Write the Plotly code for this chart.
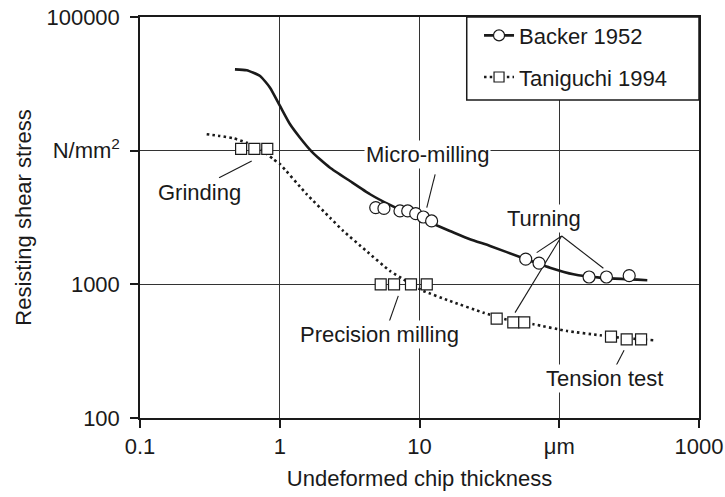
import numpy as np
import plotly.graph_objects as go

# ---------------- data ----------------
# Backer 1952: fitted curve and measured points
backer_curve_x = [0.478, 0.580, 0.723, 0.852, 1.004, 1.185, 1.396, 1.694, 1.940, 2.290, 3.177,
                  4.428, 6.147, 8.546, 11.90, 16.49, 22.97, 31.99, 55.33, 85.82, 126.3, 195.2, 426.6]
backer_curve_y = [40600, 39950, 36200, 29600, 21600, 15750, 12500, 9840, 8620, 7460, 5930,
                  4720, 3925, 3342, 2893, 2509, 2175, 1937, 1567, 1333, 1190, 1122, 1073]
backer_pts_x = [4.862, 5.567, 7.247, 8.234, 9.398, 10.65, 12.21, 57.54, 71.67, 163.4, 217.6, 316.6]
backer_pts_y = [3750, 3700, 3540, 3540, 3380, 3190, 2980, 1542, 1440, 1135, 1135, 1161]

# Taniguchi 1994: fitted curve and measured points
tani_curve_x = [0.300, 0.3735, 0.465, 0.580, 0.710, 0.899, 1.006, 1.560, 2.290, 2.847, 4.107,
                6.147, 7.663, 8.670, 10.65, 16.49, 28.63, 41.75, 65.23, 113.5, 195.2, 264.4, 470.5]
tani_curve_y = [13270, 12880, 12390, 11480, 10500, 8630, 7910, 4720, 3150, 2510, 1800,
                1259, 1092, 1000, 893, 751, 614, 545, 503, 448, 416, 400, 382]
tani_pts_x = [0.529, 0.658, 0.814, 5.277, 6.573, 8.691, 11.27, 35.66, 46.91, 56.17,
              234.6, 303.8, 385.0]
tani_pts_y = [10300, 10300, 10300, 1000, 1000, 1000, 1000, 554, 520, 520, 406, 388, 388]

# Axis ticks
x_tickvals = [0.1, 1, 10, 100, 1000]
x_ticktext = ["0.1", "1", "10", "\u03bcm", "1000"]
y_tickvals = [100, 1000, 10000, 100000]
y_ticktext = ["100", "1000", "N/mm<sup>2</sup>", "100000"]

# Text labels (data positions) and their leader lines
labels = ["Grinding", "Micro-milling", "Turning", "Precision milling", "Tension test"]
label_x = [0.267, 11.48, 77.58, 5.194, 210.1]
label_y = [4830, 9290, 3110, 419, 198]
leader_x = [0.368, 0.630, None, 12.94, 11.27, None,
            104.1, 68.93, None, 104.1, 48.27, None, 104.1, 206.9, None,
            7.050, 5.981, None, 291.0, 250.6]
leader_y = [6280, 8380, None, 6660, 3750, None,
            2300, 1726, None, 2300, 614, None, 2300, 1319, None,
            819, 503, None, 321, 238]

# ---------------- figure ----------------
INK = "#1a1a1a"
FONT = "Liberation Sans, Arial, Helvetica, sans-serif"
FS = 22
DOT = "2.5px,3.2px"

fig = go.Figure()

# curves
fig.add_trace(go.Scatter(x=backer_curve_x, y=backer_curve_y, mode="lines",
                         line=dict(color=INK, width=2.6, shape="spline", smoothing=0.5),
                         showlegend=False, hoverinfo="skip"))
fig.add_trace(go.Scatter(x=tani_curve_x, y=tani_curve_y, mode="lines",
                         line=dict(color=INK, width=2.6, dash=DOT,
                                   shape="spline", smoothing=0.5),
                         showlegend=False, hoverinfo="skip"))
# leader lines
fig.add_trace(go.Scatter(x=leader_x, y=leader_y, mode="lines",
                         line=dict(color=INK, width=1.1),
                         showlegend=False, hoverinfo="skip", connectgaps=False))
# measured points
fig.add_trace(go.Scatter(x=backer_pts_x, y=backer_pts_y, mode="markers",
                         marker=dict(symbol="circle", size=12, color="white",
                                     line=dict(color=INK, width=1.2)),
                         showlegend=False))
fig.add_trace(go.Scatter(x=tani_pts_x, y=tani_pts_y, mode="markers",
                         marker=dict(symbol="square", size=11, color="white",
                                     line=dict(color=INK, width=1.2)),
                         showlegend=False))
# legend entries
fig.add_trace(go.Scatter(x=[None], y=[None], mode="lines+markers", name="Backer 1952",
                         legendgroup="a",
                         line=dict(color=INK, width=2.6),
                         marker=dict(symbol="circle", size=11, color="white",
                                     line=dict(color=INK, width=1.2))))
fig.add_trace(go.Scatter(x=[None], y=[None], mode="lines+markers", name="Taniguchi 1994",
                         legendgroup="b",
                         line=dict(color=INK, width=2.6, dash=DOT),
                         marker=dict(symbol="square", size=10, color="white",
                                     line=dict(color=INK, width=1.2))))

for t, lx, ly in zip(labels, label_x, label_y):
    fig.add_annotation(x=np.log10(lx), y=np.log10(ly), xref="x", yref="y",
                       text=t, showarrow=False, bgcolor="white", borderpad=1,
                       font=dict(family=FONT, size=FS, color=INK))

# legend frame
fig.add_shape(type="rect", xref="paper", yref="paper",
              x0=0.5845, x1=1.0, y0=0.793, y1=1.0, layer="above",
              line=dict(color=INK, width=1.5), fillcolor="white")

axis_common = dict(type="log", showline=True, linecolor=INK, linewidth=1.5, mirror=True,
                   showgrid=True, gridcolor="#333333", gridwidth=1, zeroline=False,
                   ticks="outside", ticklen=8, tickwidth=1.5, tickcolor=INK,
                   tickfont=dict(family=FONT, size=FS, color=INK),
                   tickmode="array", ticklabeloverflow="allow")

fig.update_xaxes(range=[-1, 3], tickvals=x_tickvals, ticktext=x_ticktext,
                 ticklabelstandoff=0,
                 title=dict(text="Undeformed chip thickness", standoff=12,
                            font=dict(family=FONT, size=FS, color=INK)),
                 **axis_common)
fig.update_yaxes(range=[2, 5], tickvals=y_tickvals, ticktext=y_ticktext,
                 ticklabelstandoff=6,
                 title=dict(text="Resisting shear stress", standoff=9,
                            font=dict(family=FONT, size=FS, color=INK)),
                 **axis_common)

fig.update_layout(
    width=725, height=497,
    margin=dict(l=140, r=26, t=17, b=79, autoexpand=False),
    paper_bgcolor="white", plot_bgcolor="white",
    font=dict(family=FONT, size=FS, color=INK),
    showlegend=True,
    legend=dict(x=0.6065, xanchor="left", y=1.006, yanchor="top",
                bgcolor="rgba(0,0,0,0)", borderwidth=0,
                traceorder="grouped", tracegroupgap=10,
                font=dict(family=FONT, size=FS, color=INK)),
)

fig.write_html("out.html")
